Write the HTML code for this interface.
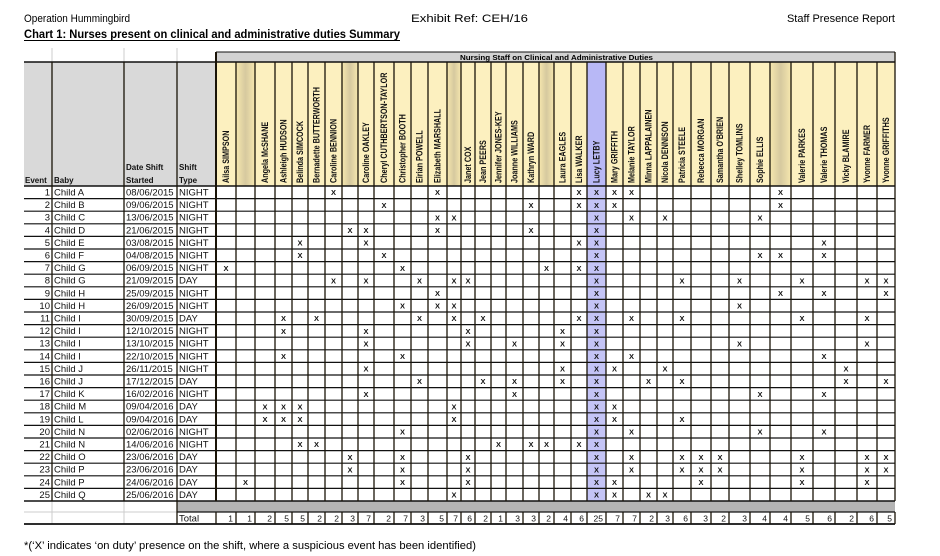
<!DOCTYPE html>
<html><head><meta charset="utf-8"><style>
html,body{margin:0;padding:0;background:#fff;}
svg{display:block;font-family:"Liberation Sans",Arial,sans-serif;}
.n{font-size:8.8px;font-weight:bold;fill:#111;}
.d{font-size:9.5px;fill:#111;}
.x{font-size:7.5px;font-weight:bold;fill:#111;text-anchor:middle;}
.t{font-size:8.5px;fill:#111;text-anchor:end;}
</style></head><body>
<svg width="940" height="556" viewBox="0 0 940 556" xmlns="http://www.w3.org/2000/svg">
<defs>
<linearGradient id="bl" x1="0" x2="1" y1="0" y2="0"><stop offset="0" stop-color="#f6e7ae"/><stop offset="0.5" stop-color="#d6c99f"/><stop offset="1" stop-color="#f6e7ae"/></linearGradient>
</defs>
<text x="24" y="22" font-size="11" textLength="106" lengthAdjust="spacingAndGlyphs">Operation Hummingbird</text>
<text x="411" y="22" font-size="11" textLength="117" lengthAdjust="spacingAndGlyphs">Exhibit Ref: CEH/16</text>
<text x="895" y="22" font-size="11" text-anchor="end">Staff Presence Report</text>
<text x="24" y="38" font-size="12" font-weight="bold" textLength="376" lengthAdjust="spacingAndGlyphs">Chart 1: Nurses present on clinical and administrative duties Summary</text>
<line x1="24" y1="40.5" x2="400" y2="40.5" stroke="#000" stroke-width="1"/>

<g stroke="#ccc" stroke-width="1"><line x1="52" y1="48" x2="52" y2="62"/><line x1="124" y1="48" x2="124" y2="62"/><line x1="177" y1="48" x2="177" y2="62"/></g>
<rect x="216" y="52" width="679" height="10" fill="#d2d2d2"/>
<text x="460" y="60" font-size="7.5" font-weight="bold" textLength="193" lengthAdjust="spacingAndGlyphs">Nursing Staff on Clinical and Administrative Duties</text>
<rect x="24" y="62" width="192" height="124" fill="#d9d9d9"/>
<rect x="216" y="62" width="679" height="124" fill="#fcf0bf"/>
<rect x="236" y="62" width="19" height="124" fill="url(#bl)"/>
<rect x="342" y="62" width="16" height="124" fill="url(#bl)"/>
<rect x="447" y="62" width="14" height="124" fill="url(#bl)"/>
<rect x="539" y="62" width="15" height="124" fill="url(#bl)"/>
<rect x="770" y="62" width="21" height="124" fill="url(#bl)"/>
<rect x="587" y="62" width="19" height="124" fill="#b8b8f6"/>
<rect x="587" y="186" width="19" height="315" fill="#c4c4f6"/>

<g font-size="8" font-weight="bold" fill="#111">
<text x="25" y="183">Event</text><text x="54" y="183">Baby</text>
<text x="126" y="170">Date Shift</text><text x="126" y="183">Started</text>
<text x="179" y="170">Shift</text><text x="179" y="183">Type</text>
</g>

<g class="n">
<text transform="translate(229,183) rotate(-90) scale(0.82,1)">Ailsa SIMPSON</text>
<text transform="translate(268,183) rotate(-90) scale(0.82,1)">Angela McSHANE</text>
<text transform="translate(286.5,183) rotate(-90) scale(0.82,1)">Ashleigh HUDSON</text>
<text transform="translate(303,183) rotate(-90) scale(0.82,1)">Belinda SIMCOCK</text>
<text transform="translate(319.5,183) rotate(-90) scale(0.82,1)">Bernadette BUTTERWORTH</text>
<text transform="translate(336.5,183) rotate(-90) scale(0.82,1)">Caroline BENNION</text>
<text transform="translate(369,183) rotate(-90) scale(0.82,1)">Caroline OAKLEY</text>
<text transform="translate(387,183) rotate(-90) scale(0.82,1)">Cheryl CUTHBERTSON-TAYLOR</text>
<text transform="translate(405.5,183) rotate(-90) scale(0.82,1)">Christopher BOOTH</text>
<text transform="translate(422.5,183) rotate(-90) scale(0.82,1)">Eirian POWELL</text>
<text transform="translate(440.5,183) rotate(-90) scale(0.82,1)">Elizabeth MARSHALL</text>
<text transform="translate(471,183) rotate(-90) scale(0.82,1)">Janet COX</text>
<text transform="translate(486,183) rotate(-90) scale(0.82,1)">Jean PEERS</text>
<text transform="translate(501.5,183) rotate(-90) scale(0.82,1)">Jennifer JONES-KEY</text>
<text transform="translate(517.5,183) rotate(-90) scale(0.82,1)">Joanne WILLIAMS</text>
<text transform="translate(534,183) rotate(-90) scale(0.82,1)">Kathryn WARD</text>
<text transform="translate(565.5,183) rotate(-90) scale(0.82,1)">Laura EAGLES</text>
<text transform="translate(582,183) rotate(-90) scale(0.82,1)">Lisa WALKER</text>
<text transform="translate(599.5,183) rotate(-90) scale(0.82,1)">Lucy LETBY</text>
<text transform="translate(617.5,183) rotate(-90) scale(0.82,1)">Mary GRIFFITH</text>
<text transform="translate(634.5,183) rotate(-90) scale(0.82,1)">Melanie TAYLOR</text>
<text transform="translate(651.5,183) rotate(-90) scale(0.82,1)">Minna LAPPALAINEN</text>
<text transform="translate(668,183) rotate(-90) scale(0.82,1)">Nicola DENNISON</text>
<text transform="translate(685,183) rotate(-90) scale(0.82,1)">Patricia STEELE</text>
<text transform="translate(704,183) rotate(-90) scale(0.82,1)">Rebecca MORGAN</text>
<text transform="translate(723,183) rotate(-90) scale(0.82,1)">Samantha O'BRIEN</text>
<text transform="translate(742.5,183) rotate(-90) scale(0.82,1)">Shelley TOMLINS</text>
<text transform="translate(763,183) rotate(-90) scale(0.82,1)">Sophie ELLIS</text>
<text transform="translate(805,183) rotate(-90) scale(0.82,1)">Valerie PARKES</text>
<text transform="translate(827,183) rotate(-90) scale(0.82,1)">Valerie THOMAS</text>
<text transform="translate(849,183) rotate(-90) scale(0.82,1)">Vicky BLAMIRE</text>
<text transform="translate(870,183) rotate(-90) scale(0.82,1)">Yvonne FARMER</text>
<text transform="translate(889,183) rotate(-90) scale(0.82,1)">Yvonne GRIFFITHS</text>
</g>

<rect x="177" y="501" width="718" height="11" fill="#b4b4b4"/>
<g stroke="#ccc" stroke-width="1"><line x1="52" y1="501" x2="52" y2="524"/><line x1="124" y1="501" x2="124" y2="524"/><line x1="24" y1="512" x2="177" y2="512"/></g>

<g stroke="#111" stroke-width="1.2">
<line x1="216" y1="52" x2="895" y2="52" stroke-width="1"/>
<line x1="24" y1="62" x2="895" y2="62" stroke-width="1.6"/>
<line x1="24" y1="186" x2="895" y2="186" stroke-width="1.6"/>
<line x1="24" y1="198.6" x2="895" y2="198.6"/><line x1="24" y1="211.2" x2="895" y2="211.2"/><line x1="24" y1="223.8" x2="895" y2="223.8"/><line x1="24" y1="236.4" x2="895" y2="236.4"/><line x1="24" y1="249" x2="895" y2="249"/><line x1="24" y1="261.6" x2="895" y2="261.6"/><line x1="24" y1="274.2" x2="895" y2="274.2"/><line x1="24" y1="286.8" x2="895" y2="286.8"/><line x1="24" y1="299.4" x2="895" y2="299.4"/><line x1="24" y1="312" x2="895" y2="312"/><line x1="24" y1="324.6" x2="895" y2="324.6"/><line x1="24" y1="337.2" x2="895" y2="337.2"/><line x1="24" y1="349.8" x2="895" y2="349.8"/><line x1="24" y1="362.4" x2="895" y2="362.4"/><line x1="24" y1="375" x2="895" y2="375"/><line x1="24" y1="387.6" x2="895" y2="387.6"/><line x1="24" y1="400.2" x2="895" y2="400.2"/><line x1="24" y1="412.8" x2="895" y2="412.8"/><line x1="24" y1="425.4" x2="895" y2="425.4"/><line x1="24" y1="438" x2="895" y2="438"/><line x1="24" y1="450.6" x2="895" y2="450.6"/><line x1="24" y1="463.2" x2="895" y2="463.2"/><line x1="24" y1="475.8" x2="895" y2="475.8"/><line x1="24" y1="488.4" x2="895" y2="488.4"/>
<line x1="24" y1="501" x2="895" y2="501" stroke-width="1.4"/>
<line x1="177" y1="512" x2="895" y2="512"/>
<line x1="24" y1="524" x2="895" y2="524" stroke-width="1.8"/>
</g>
<g stroke="#1a1408" stroke-width="1.3">
<line x1="52" y1="62" x2="52" y2="501"/><line x1="124" y1="62" x2="124" y2="501"/><line x1="177" y1="62" x2="177" y2="524"/>
<line x1="216" y1="52" x2="216" y2="501" stroke-width="2"/>
<line x1="895" y1="52" x2="895" y2="501"/>
</g>
<g stroke="#1a1408" stroke-width="1.3">
<path d="M236 62V501M255 62V501M275 62V501M292 62V501M308 62V501M325 62V501M342 62V501M358 62V501M374 62V501M394 62V501M411 62V501M428 62V501M447 62V501M461 62V501M475 62V501M491 62V501M506 62V501M523 62V501M539 62V501M554 62V501M571 62V501M587 62V501M606 62V501M623 62V501M640 62V501M657 62V501M673 62V501M691 62V501M711 62V501M729 62V501M750 62V501M770 62V501M791 62V501M813 62V501M835 62V501M857 62V501M877 62V501"/>
<path d="M216 512V524M236 512V524M255 512V524M275 512V524M292 512V524M308 512V524M325 512V524M342 512V524M358 512V524M374 512V524M394 512V524M411 512V524M428 512V524M447 512V524M461 512V524M475 512V524M491 512V524M506 512V524M523 512V524M539 512V524M554 512V524M571 512V524M587 512V524M606 512V524M623 512V524M640 512V524M657 512V524M673 512V524M691 512V524M711 512V524M729 512V524M750 512V524M770 512V524M791 512V524M813 512V524M835 512V524M857 512V524M877 512V524M895 512V524"/>
</g>

<g class="d">
<g text-anchor="end">
<text x="50" y="195.5">1</text><text x="50" y="208.1">2</text><text x="50" y="220.7">3</text><text x="50" y="233.3">4</text><text x="50" y="245.9">5</text><text x="50" y="258.5">6</text><text x="50" y="271.1">7</text><text x="50" y="283.7">8</text><text x="50" y="296.3">9</text><text x="50" y="308.9">10</text><text x="50" y="321.5">11</text><text x="50" y="334.1">12</text><text x="50" y="346.7">13</text><text x="50" y="359.3">14</text><text x="50" y="371.9">15</text><text x="50" y="384.5">16</text><text x="50" y="397.1">17</text><text x="50" y="409.7">18</text><text x="50" y="422.3">19</text><text x="50" y="434.9">20</text><text x="50" y="447.5">21</text><text x="50" y="460.1">22</text><text x="50" y="472.7">23</text><text x="50" y="485.3">24</text><text x="50" y="497.9">25</text>
</g>
<text x="54" y="195.5">Child A</text><text x="54" y="208.1">Child B</text><text x="54" y="220.7">Child C</text><text x="54" y="233.3">Child D</text><text x="54" y="245.9">Child E</text><text x="54" y="258.5">Child F</text><text x="54" y="271.1">Child G</text><text x="54" y="283.7">Child G</text><text x="54" y="296.3">Child H</text><text x="54" y="308.9">Child H</text><text x="54" y="321.5">Child I</text><text x="54" y="334.1">Child I</text><text x="54" y="346.7">Child I</text><text x="54" y="359.3">Child I</text><text x="54" y="371.9">Child J</text><text x="54" y="384.5">Child J</text><text x="54" y="397.1">Child K</text><text x="54" y="409.7">Child M</text><text x="54" y="422.3">Child L</text><text x="54" y="434.9">Child N</text><text x="54" y="447.5">Child N</text><text x="54" y="460.1">Child O</text><text x="54" y="472.7">Child P</text><text x="54" y="485.3">Child P</text><text x="54" y="497.9">Child Q</text>
<text x="126" y="195.5">08/06/2015</text><text x="126" y="208.1">09/06/2015</text><text x="126" y="220.7">13/06/2015</text><text x="126" y="233.3">21/06/2015</text><text x="126" y="245.9">03/08/2015</text><text x="126" y="258.5">04/08/2015</text><text x="126" y="271.1">06/09/2015</text><text x="126" y="283.7">21/09/2015</text><text x="126" y="296.3">25/09/2015</text><text x="126" y="308.9">26/09/2015</text><text x="126" y="321.5">30/09/2015</text><text x="126" y="334.1">12/10/2015</text><text x="126" y="346.7">13/10/2015</text><text x="126" y="359.3">22/10/2015</text><text x="126" y="371.9">26/11/2015</text><text x="126" y="384.5">17/12/2015</text><text x="126" y="397.1">16/02/2016</text><text x="126" y="409.7">09/04/2016</text><text x="126" y="422.3">09/04/2016</text><text x="126" y="434.9">02/06/2016</text><text x="126" y="447.5">14/06/2016</text><text x="126" y="460.1">23/06/2016</text><text x="126" y="472.7">23/06/2016</text><text x="126" y="485.3">24/06/2016</text><text x="126" y="497.9">25/06/2016</text>
<text x="179" y="195.5">NIGHT</text><text x="179" y="208.1">NIGHT</text><text x="179" y="220.7">NIGHT</text><text x="179" y="233.3">NIGHT</text><text x="179" y="245.9">NIGHT</text><text x="179" y="258.5">NIGHT</text><text x="179" y="271.1">NIGHT</text><text x="179" y="283.7">DAY</text><text x="179" y="296.3">NIGHT</text><text x="179" y="308.9">NIGHT</text><text x="179" y="321.5">DAY</text><text x="179" y="334.1">NIGHT</text><text x="179" y="346.7">NIGHT</text><text x="179" y="359.3">NIGHT</text><text x="179" y="371.9">NIGHT</text><text x="179" y="384.5">DAY</text><text x="179" y="397.1">NIGHT</text><text x="179" y="409.7">DAY</text><text x="179" y="422.3">DAY</text><text x="179" y="434.9">NIGHT</text><text x="179" y="447.5">NIGHT</text><text x="179" y="460.1">DAY</text><text x="179" y="472.7">DAY</text><text x="179" y="485.3">DAY</text><text x="179" y="497.9">DAY</text>
<text x="179" y="521.5">Total</text>
</g>

<g class="x">
<text y="195.2" x="333.5 437.5 579 596.5 614.5 631.5 780.5">XXXXXXX</text>
<text y="207.8" x="384 531 579 596.5 614.5 780.5">XXXXXX</text>
<text y="220.4" x="437.5 454 596.5 631.5 665 760">XXXXXX</text>
<text y="233" x="350 366 437.5 531 596.5">XXXXX</text>
<text y="245.6" x="300 366 579 596.5 824">XXXXX</text>
<text y="258.2" x="300 384 596.5 760 780.5 824">XXXXXX</text>
<text y="270.8" x="226 402.5 546.5 579 596.5">XXXXX</text>
<text y="283.4" x="333.5 366 419.5 454 468 596.5 682 739.5 802 867 886">XXXXXXXXXXX</text>
<text y="296" x="437.5 596.5 780.5 824 886">XXXXX</text>
<text y="308.6" x="402.5 437.5 454 596.5 739.5">XXXXX</text>
<text y="321.2" x="283.5 316.5 419.5 454 483 579 596.5 631.5 682 802 867">XXXXXXXXXXX</text>
<text y="333.8" x="283.5 366 468 562.5 596.5">XXXXX</text>
<text y="346.4" x="366 468 514.5 562.5 596.5 739.5 867">XXXXXXX</text>
<text y="359" x="283.5 402.5 596.5 631.5 824">XXXXX</text>
<text y="371.6" x="366 562.5 596.5 614.5 665 846">XXXXXX</text>
<text y="384.2" x="419.5 483 514.5 562.5 596.5 648.5 682 846 886">XXXXXXXXX</text>
<text y="396.8" x="366 514.5 596.5 760 824">XXXXX</text>
<text y="409.4" x="265 283.5 300 454 596.5 614.5">XXXXXX</text>
<text y="422" x="265 283.5 300 454 596.5 614.5 682">XXXXXXX</text>
<text y="434.6" x="402.5 596.5 631.5 760 824">XXXXX</text>
<text y="447.2" x="300 316.5 498.5 531 546.5 579 596.5">XXXXXXX</text>
<text y="459.8" x="350 402.5 468 596.5 631.5 682 701 720 802 867 886">XXXXXXXXXXX</text>
<text y="472.4" x="350 402.5 468 596.5 631.5 682 701 720 802 867 886">XXXXXXXXXXX</text>
<text y="485" x="245.5 402.5 468 596.5 614.5 701 802 867">XXXXXXXX</text>
<text y="497.6" x="454 596.5 614.5 648.5 665">XXXXX</text>
</g>

<g class="t">
<text x="233" y="521.5">1</text><text x="252" y="521.5">1</text><text x="272" y="521.5">2</text><text x="289" y="521.5">5</text><text x="305" y="521.5">5</text><text x="322" y="521.5">2</text><text x="339" y="521.5">2</text><text x="355" y="521.5">3</text><text x="371" y="521.5">7</text><text x="391" y="521.5">2</text><text x="408" y="521.5">7</text><text x="425" y="521.5">3</text><text x="444" y="521.5">5</text><text x="458" y="521.5">7</text><text x="472" y="521.5">6</text><text x="488" y="521.5">2</text><text x="503" y="521.5">1</text><text x="520" y="521.5">3</text><text x="536" y="521.5">3</text><text x="551" y="521.5">2</text><text x="568" y="521.5">4</text><text x="584" y="521.5">6</text><text x="603" y="521.5">25</text><text x="620" y="521.5">7</text><text x="637" y="521.5">7</text><text x="654" y="521.5">2</text><text x="670" y="521.5">3</text><text x="688" y="521.5">6</text><text x="708" y="521.5">3</text><text x="726" y="521.5">2</text><text x="747" y="521.5">3</text><text x="767" y="521.5">4</text><text x="788" y="521.5">4</text><text x="810" y="521.5">5</text><text x="832" y="521.5">6</text><text x="854" y="521.5">2</text><text x="874" y="521.5">6</text><text x="892" y="521.5">5</text>
</g>

<text x="24" y="549" font-size="11" textLength="452" lengthAdjust="spacingAndGlyphs">*(‘X’ indicates ‘on duty’ presence on the shift, where a suspicious event has been identified)</text>
</svg>
</body></html>
